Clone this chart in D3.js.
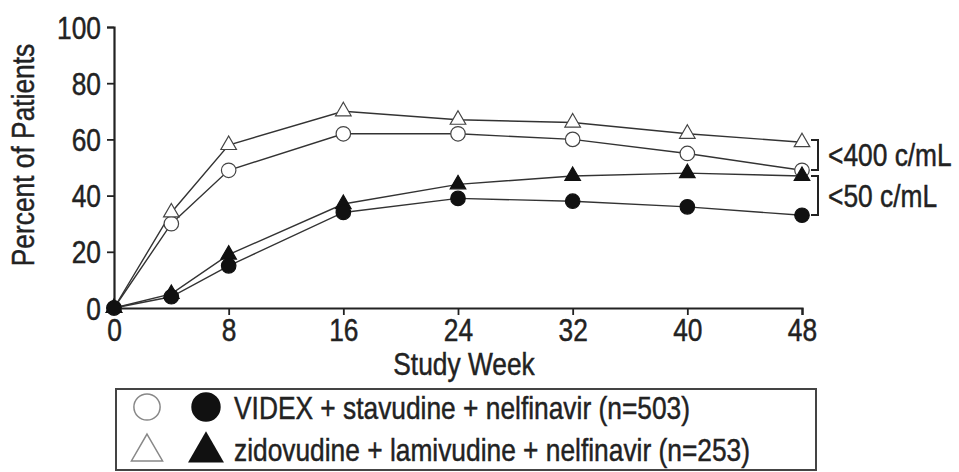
<!DOCTYPE html>
<html>
<head>
<meta charset="utf-8">
<script src="https://cdn.jsdelivr.net/npm/d3@7/dist/d3.min.js"></script>
<style>
  body { margin: 0; background: #fff; }
  svg text { font-family: "Liberation Sans", Arial, sans-serif; fill: #222; stroke: #222; stroke-width: 0.45px; }
</style>
</head>
<body>
<svg id="chart" width="959" height="472"></svg>
<script>
const weeks = [0, 4, 8, 16, 24, 32, 40, 48];
const videx400 = [0, 30, 49, 62, 62, 60, 55, 49];
const zido400 = [0, 34, 58, 70, 67, 66, 62, 59];
const videx50 = [0, 4, 15, 34, 39, 38, 36, 33];
const zido50 = [0, 5, 19, 37, 44, 47, 48, 47];
const xTicks = [0, 8, 16, 24, 32, 40, 48];
const yTicks = [0, 20, 40, 60, 80, 100];
const legendLabels = ["VIDEX + stavudine + nelfinavir (n=503)", "zidovudine + lamivudine + nelfinavir (n=253)"];
const threshLabels = ["<400 c/mL", "<50 c/mL"];

const svg = d3.select("#chart");
const x = d3.scaleLinear().domain([0, 48]).range([114, 802]);
const y = d3.scaleLinear().domain([0, 100]).range([308, 27]);
const ink = "#222";
const fs = 31;
const sx = 0.85; // condensed look

function label(px, py, txt, opts = {}) {
  const t = svg.append("text")
    .attr("transform", `translate(${px},${py}) ${opts.rotate ? "rotate(" + opts.rotate + ")" : ""} scale(${sx},1)`)
    .attr("font-size", fs)
    .attr("text-anchor", opts.anchor || "start")
    .text(txt);
  if (opts.dy) t.attr("dy", opts.dy);
  return t;
}

// axes
const xAxis = svg.append("g").attr("transform", `translate(0,${y(0)})`)
  .call(d3.axisBottom(x).tickValues(xTicks).tickSize(7).tickPadding(4));
const yAxis = svg.append("g").attr("transform", `translate(${x(0)},0)`)
  .call(d3.axisLeft(y).tickValues(yTicks).tickSize(7).tickPadding(6));
[xAxis, yAxis].forEach(a => {
  a.select(".domain").attr("stroke", ink).attr("stroke-width", 2.2);
  a.selectAll(".tick line").attr("stroke", ink).attr("stroke-width", 1.8);
  a.selectAll(".tick text").attr("font-size", fs).attr("fill", ink)
    .style("font-family", '"Liberation Sans", Arial, sans-serif')
    .attr("transform", `scale(${sx},1)`);
});
yAxis.selectAll(".tick text").attr("x", -13 / sx).attr("dy", "0.36em");

label(464, 375, "Study Week", { anchor: "middle" });
label(34, 155, "Percent of Patients", { anchor: "middle", rotate: -90 });

// series
const series = [
  { vals: videx400, shape: "circle", filled: false },
  { vals: zido400, shape: "triangle", filled: false },
  { vals: zido50, shape: "triangle", filled: true },
  { vals: videx50, shape: "circle", filled: true }
];
const line = d3.line().x((d, i) => x(weeks[i])).y(d => y(d));
series.forEach(s => {
  svg.append("path").datum(s.vals).attr("d", line)
    .attr("fill", "none").attr("stroke", "#333").attr("stroke-width", 1.4);
});
series.forEach(s => {
  const sym = s.shape === "circle" ? d3.symbolCircle : d3.symbolTriangle;
  const size = s.shape === "circle" ? 165 : 105;
  svg.append("g").selectAll("path").data(s.vals).join("path")
    .attr("transform", (d, i) => `translate(${x(weeks[i])},${y(d)})`)
    .attr("d", d3.symbol().type(sym).size(size))
    .attr("fill", s.filled ? "#111" : "#fff")
    .attr("stroke", s.filled ? "#111" : "#444")
    .attr("stroke-width", 1.2);
});

// threshold brackets
const brackets = [[140, 170], [176, 215]];
brackets.forEach((b, i) => {
  svg.append("path")
    .attr("d", `M811,${b[0]} H818 V${b[1]} H811`)
    .attr("fill", "none").attr("stroke", ink).attr("stroke-width", 2);
  label(828, (b[0] + b[1]) / 2, threshLabels[i], { dy: "0.36em" });
});

// legend
svg.append("rect").attr("x", 116).attr("y", 389).attr("width", 700).attr("height", 81)
  .attr("fill", "none").attr("stroke", "#444").attr("stroke-width", 2);
const rows = [
  { sym: d3.symbolCircle, size: 540, cy: 407, ty: 419 },
  { sym: d3.symbolTriangle, size: 420, cy: 452, ty: 461 }
];
rows.forEach((r, i) => {
  svg.append("path").attr("transform", `translate(147,${r.cy})`)
    .attr("d", d3.symbol().type(r.sym).size(r.size))
    .attr("fill", "#fff").attr("stroke", "#888").attr("stroke-width", 1.5);
  svg.append("path").attr("transform", `translate(206,${r.cy})`)
    .attr("d", d3.symbol().type(r.sym).size(r.size + 140))
    .attr("fill", "#111");
  label(234, r.ty, legendLabels[i]);
});
</script>
</body>
</html>
